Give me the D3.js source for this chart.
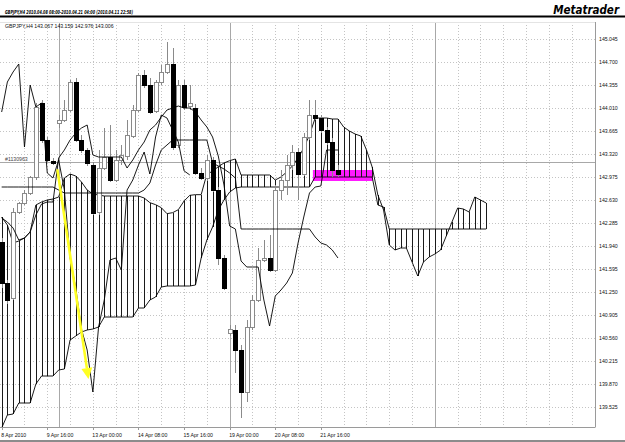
<!DOCTYPE html>
<html><head><meta charset="utf-8">
<script src="https://cdn.jsdelivr.net/npm/d3@7"></script>
<style>
html,body{margin:0;padding:0;background:#fff;}
svg{display:block;}
</style></head><body>
<svg id="chart" width="625" height="442"></svg>
<script>
// GBPJPY H4 candles, bar 0 = 8 Apr 16:00
const open = [142.00, 141.385, 141.16, 142.45, 142.585, 142.735, 142.975, 144.085, 143.53, 143.215,
  143.785, 143.83, 143.98, 144.40, 143.53, 143.38, 143.155, 142.45, 143.11, 143.275,
  142.93, 143.23, 143.29, 143.59, 143.98, 144.505, 144.355, 143.965, 144.40, 144.55,
  144.67, 143.455, 144.355, 144.04, 144.01, 143.035, 142.96, 143.23, 142.78, 141.76,
  140.635, 140.68, 140.38, 139.75, 140.725, 141.13, 141.72, 141.76, 141.58, 142.78,
  142.93, 143.155, 143.35, 143.02, 143.575, 143.905, 143.86, 143.68, 143.50, 143.067];
const high = [142.06, 141.43, 142.51, 142.60, 142.78, 142.99, 144.085, 144.13, 143.575, 143.26,
  143.905, 144.13, 144.43, 144.46, 143.605, 143.41, 143.20, 143.38, 143.71, 143.755,
  143.38, 143.455, 143.83, 144.055, 144.535, 144.58, 144.46, 144.43, 144.655, 145.00,
  144.91, 144.43, 144.43, 144.355, 144.07, 143.11, 143.305, 143.275, 142.825, 141.805,
  140.755, 140.755, 140.455, 140.83, 141.205, 141.91, 142.03, 142.105, 142.855, 143.08,
  143.305, 143.455, 143.41, 143.635, 144.13, 144.13, 143.905, 143.725, 143.56, 143.159];
const low = [141.31, 141.07, 141.13, 142.42, 142.555, 142.705, 142.93, 143.485, 143.20, 143.155,
  143.71, 143.80, 143.95, 143.50, 143.335, 143.14, 142.405, 142.405, 143.08, 142.90,
  142.90, 143.155, 143.23, 143.56, 143.95, 144.31, 143.92, 143.935, 144.355, 144.52,
  143.38, 143.41, 143.98, 143.98, 143.005, 142.93, 142.915, 142.75, 141.655, 141.28,
  140.59, 140.035, 139.36, 139.60, 140.68, 141.10, 141.70, 141.55, 141.55, 142.63,
  142.705, 143.08, 142.63, 142.99, 143.53, 143.83, 143.635, 143.455, 142.975, 142.976];
const close = [141.385, 141.13, 142.45, 142.585, 142.735, 142.975, 144.025, 143.53, 143.23, 143.185,
  143.83, 143.98, 144.40, 143.53, 143.38, 143.185, 142.435, 143.11, 143.275, 142.93,
  143.23, 143.305, 143.605, 143.98, 144.505, 144.355, 143.95, 144.40, 144.55, 144.67,
  143.425, 144.355, 144.025, 144.085, 143.035, 142.96, 143.23, 142.78, 141.76, 141.31,
  140.695, 140.38, 139.75, 140.725, 141.13, 141.73, 141.76, 141.58, 142.78, 142.93,
  143.155, 143.35, 143.02, 143.575, 143.905, 143.86, 143.68, 143.50, 143.067, 143.006];

// Ichimoku lines
const tenkan = [142.36, 142.30, 142.21, 142.03, 142.06, 142.15, 142.405, 142.57, 142.60, 142.60,
  143.26, 143.38, 143.53, 143.635, 143.71, 143.755, 143.305, 143.275, 143.275, 143.275,
  143.275, 143.275, 143.11, 143.23, 143.38, 143.50, 143.68, 143.755, 143.875, 143.98,
  144.01, 144.04, 144.01, 144.01, 143.95, 143.83, 143.725, 143.575, 143.29, 142.855,
  142.24, 142.195, 141.715, 141.625, 141.625, 141.625, 141.13, 140.74, 141.19, 141.28,
  141.385, 141.535, 141.985, 142.375, 142.735, 142.825, 142.84, 143.38, 143.38, 143.38];
const kijun = [142.825, 142.825, 142.825, 142.825, 142.825, 142.825, 142.825, 142.825, 142.825, 142.825,
  142.78, 142.735, 142.735, 142.735, 142.735, 142.735, 142.735, 142.735, 142.735, 142.735,
  142.735, 142.735, 142.735, 142.735, 142.735, 142.78, 142.885, 143.155, 143.38, 143.455,
  143.53, 143.53, 143.53, 143.53, 143.53, 143.53, 143.53, 143.185, 143.14, 143.095,
  143.035, 142.96, 142.195, 142.195, 142.195, 142.195, 142.195, 142.195, 142.195, 142.195,
  142.195, 142.195, 142.195, 142.195, 142.195, 142.075, 141.985, 141.955, 141.88, 141.76];
const spanA = [142.375, 142.255, 141.985, 142.015, 142.06, 142.15, 142.555, 142.60, 142.63, 142.645,
  142.675, 142.96, 143.02, 142.99, 142.90, 142.78, 142.72, 142.705, 142.69, 142.69,
  142.69, 142.69, 142.69, 142.69, 142.69, 142.66, 142.59, 142.56, 142.515, 142.425,
  142.44, 142.485, 142.615, 142.70, 142.71, 142.71, 143.02, 143.06, 143.13, 143.185,
  143.22, 143.245, 143.005, 143.005, 143.005, 143.005, 143.005, 143.005, 142.93, 142.975,
  143.05, 143.14, 143.26, 143.41, 143.605, 143.86, 143.86, 143.86, 143.845, 143.845,
  143.725, 143.665, 143.62, 143.59, 143.38, 143.125, 142.705, 142.48, 141.955, 141.88,
  141.91, 141.91, 141.70, 141.49, 141.70, 141.775, 141.82, 141.88, 142.09, 142.30,
  142.51, 142.495, 142.45, 142.675, 142.63, 142.585];
const spanB = [139.21, 139.405, 139.42, 139.585, 139.585, 139.585, 139.87, 139.99, 139.99, 139.99,
  140.08, 140.095, 140.53, 140.59, 140.65, 140.68, 140.695, 140.725, 140.875, 140.875,
  140.875, 140.875, 140.875, 140.875, 141.01, 141.01, 141.13, 141.175, 141.325, 141.34,
  141.34, 141.34, 141.34, 141.34, 141.355, 141.76, 142.03, 142.225, 142.48, 142.63,
  142.75, 142.81, 142.825, 142.825, 142.825, 142.825, 142.825, 142.825, 142.825, 142.825,
  142.825, 142.825, 142.825, 142.825, 142.825, 142.975, 142.975, 142.975, 142.975, 142.975,
  142.975, 142.975, 142.975, 142.975, 142.975, 142.975, 142.555, 142.525, 142.195, 142.195,
  142.195, 142.195, 142.195, 142.195, 142.195, 142.195, 142.195, 142.195, 142.195, 142.195,
  142.195, 142.195, 142.195, 142.195, 142.195, 142.195];
const CHIKOU_SHIFT = 26;

const priceTicks = [139.525, 139.870, 140.215, 140.560, 140.905, 141.250, 141.595, 141.940, 142.285,
  142.630, 142.975, 143.320, 143.665, 144.010, 144.355, 144.700, 145.045];
const timeTicks = [
  { bar: 0, label: '8 Apr 2010' }, { bar: 8, label: '9 Apr 16:00' }, { bar: 16, label: '13 Apr 00:00' },
  { bar: 24, label: '14 Apr 08:00' }, { bar: 32, label: '15 Apr 16:00' }, { bar: 40, label: '19 Apr 00:00' },
  { bar: 48, label: '20 Apr 08:00' }, { bar: 56, label: '21 Apr 16:00' }];
const weekSeparators = [10, 40, 76];

// chart objects
const orderLine = { price: 143.195, label: '#1130963' };
const zone = { from: 54.6, to: 65.1, top: 143.08, bottom: 142.915 };
const arrow = { from: [9.77, 143.09], to: [15.23, 139.945] };
const title = 'GBPJPY,H4   2010.04.08 08:00-2010.04.21 04:00 (2010.04.11 22:58)';
const infoLine = 'GBPJPY,H4  143.067 143.159 142.976 143.006';

const W = 625, H = 442;
const P = { left: 0, right: 595, top: 22, bottom: 427 };

const svg = d3.select('#chart');
svg.append('rect').attr('width', W).attr('height', H).attr('fill', '#fff');

const x = d3.scaleLinear().domain([0, 104]).range([1.67, 594.47]);
const y = d3.scaleLinear().domain([139.525, 145.045]).range([407, 39]);
const px = v => Math.round(x(v)) + 0.5;

svg.append('defs').append('clipPath').attr('id', 'plot')
  .append('rect').attr('x', P.left).attr('y', P.top)
  .attr('width', P.right - P.left).attr('height', P.bottom - P.top);

const g = svg.append('g').attr('clip-path', 'url(#plot)');

// grid
g.selectAll('.hgrid').data(priceTicks).join('line')
  .attr('x1', P.left).attr('x2', P.right)
  .attr('y1', d => Math.round(y(d)) + 0.5).attr('y2', d => Math.round(y(d)) + 0.5)
  .attr('stroke', '#c4c4c4').attr('stroke-dasharray', '1,2');
g.selectAll('.vgrid').data(d3.range(4, 104, 4)).join('line')
  .attr('x1', px).attr('x2', px).attr('y1', P.top).attr('y2', P.bottom)
  .attr('stroke', '#c4c4c4').attr('stroke-dasharray', '1,2');
g.selectAll('.sep').data(weekSeparators).join('line')
  .attr('x1', px).attr('x2', px).attr('y1', P.top).attr('y2', P.bottom)
  .attr('stroke', '#a8a8a8');

// order line
const oy = Math.round(y(orderLine.price)) + 0.5;
g.append('line').attr('x1', P.left).attr('x2', P.right).attr('y1', oy).attr('y2', oy)
  .attr('stroke', '#a8a8a8');
g.append('text').attr('x', 5).attr('y', oy - 2).text(orderLine.label)
  .attr('font-family', 'Liberation Sans, Arial, sans-serif').attr('font-size', 5.2).attr('fill', '#444');

// magenta zone (background object)
g.append('rect')
  .attr('x', x(zone.from)).attr('width', x(zone.to) - x(zone.from))
  .attr('y', y(zone.top)).attr('height', y(zone.bottom) - y(zone.top))
  .attr('fill', '#ff1aff');

// cloud hatch
g.selectAll('.hatch').data(spanA).join('line')
  .attr('x1', (d, i) => px(i)).attr('x2', (d, i) => px(i))
  .attr('y1', d => y(d)).attr('y2', (d, i) => y(spanB[i]))
  .attr('stroke', '#1a1a1a').attr('stroke-width', 1).attr('shape-rendering', 'crispEdges');

const line = d3.line().x(d => x(d[0])).y(d => y(d[1]));
const series = arr => arr.map((v, i) => [i, v]);
[spanA, spanB].forEach(s => g.append('path').attr('d', line(series(s)))
  .attr('fill', 'none').attr('stroke', '#000').attr('stroke-width', 0.9));

// candles
const bars = open.map((o, i) => ({ i, o, h: high[i], l: low[i], c: close[i] }));
g.selectAll('.wick').data(bars).join('line')
  .attr('x1', d => px(d.i)).attr('x2', d => px(d.i))
  .attr('y1', d => y(d.h)).attr('y2', d => y(d.l))
  .attr('stroke', '#8a8a8a').attr('shape-rendering', 'crispEdges');
g.selectAll('.body').data(bars).join('rect')
  .attr('x', d => Math.round(x(d.i)) - 1.5).attr('width', 4)
  .attr('y', d => y(Math.max(d.o, d.c)))
  .attr('height', d => Math.max(1, Math.abs(y(d.o) - y(d.c))))
  .attr('fill', d => d.c >= d.o ? '#fff' : '#000')
  .attr('stroke', d => d.c >= d.o ? '#8a8a8a' : '#000')
  .attr('shape-rendering', 'crispEdges');

// tenkan, kijun, chikou
const chikou = close.slice(CHIKOU_SHIFT).map((v, k) => [k, v]);
[series(tenkan), series(kijun), chikou].forEach(s => g.append('path').attr('d', line(s))
  .attr('fill', 'none').attr('stroke', '#000').attr('stroke-width', 0.9));

// yellow arrow
const ax1 = x(arrow.from[0]), ay1 = y(arrow.from[1]);
const ax2 = x(arrow.to[0]), ay2 = y(arrow.to[1]);
const ang = Math.atan2(ay2 - ay1, ax2 - ax1);
const hl = 11, hw = 5.5;
const bx = ax2 - hl * Math.cos(ang), by = ay2 - hl * Math.sin(ang);
g.append('line').attr('x1', ax1).attr('y1', ay1).attr('x2', bx).attr('y2', by)
  .attr('stroke', '#ffff22').attr('stroke-width', 2.6);
g.append('path')
  .attr('d', `M${ax2},${ay2}L${bx + hw * Math.sin(ang)},${by - hw * Math.cos(ang)}L${bx - hw * Math.sin(ang)},${by + hw * Math.cos(ang)}Z`)
  .attr('fill', '#ffff22');

// frame
svg.append('line').attr('x1', P.right + 0.5).attr('x2', P.right + 0.5).attr('y1', P.top).attr('y2', P.bottom)
  .attr('stroke', '#9a9a9a');
svg.append('line').attr('x1', 0).attr('x2', P.right + 0.5).attr('y1', P.bottom + 0.5).attr('y2', P.bottom + 0.5)
  .attr('stroke', '#9a9a9a');
svg.append('line').attr('x1', 0).attr('x2', P.right).attr('y1', P.top + 0.5).attr('y2', P.top + 0.5)
  .attr('stroke', '#e4e4e4');

// axes text
const font = 'Liberation Sans, Arial, sans-serif';
svg.selectAll('.ylab').data(priceTicks).join('text')
  .attr('x', 599).attr('y', d => y(d) + 1.8).text(d => d.toFixed(3))
  .attr('font-family', font).attr('font-size', 5.2).attr('fill', '#111');
svg.selectAll('.xlab').data(timeTicks).join('text')
  .attr('x', d => x(d.bar) - 0.5).attr('y', 436.5).text(d => d.label)
  .attr('font-family', font).attr('font-size', 5.2).attr('fill', '#111');
svg.selectAll('.xtick').data(timeTicks).join('line')
  .attr('x1', d => px(d.bar)).attr('x2', d => px(d.bar)).attr('y1', P.bottom).attr('y2', P.bottom + 3)
  .attr('stroke', '#9a9a9a');

svg.append('text').attr('x', 5).attr('y', 28).text(infoLine)
  .attr('font-family', font).attr('font-size', 5.2).attr('fill', '#111');

// header
svg.append('rect').attr('x', 0).attr('y', 15.5).attr('width', W).attr('height', 2).attr('fill', '#000');
svg.append('rect').attr('x', 0).attr('y', 440).attr('width', W).attr('height', 2).attr('fill', '#8c8c8c');
svg.append('text').attr('x', 5).attr('y', 13.5).text(title)
  .attr('font-family', 'Liberation Sans Narrow, DejaVu Sans Condensed, sans-serif')
  .attr('font-weight', 'bold').attr('font-style', 'italic').attr('font-size', 5.5)
  .attr('textLength', 128).attr('lengthAdjust', 'spacingAndGlyphs');
svg.append('text').attr('x', 619).attr('y', 13.5).attr('text-anchor', 'end').text('Metatrader')
  .attr('font-family', 'DejaVu Sans Condensed, sans-serif')
  .attr('font-weight', 'bold').attr('font-style', 'italic').attr('font-size', 11.5);
</script></body></html>
